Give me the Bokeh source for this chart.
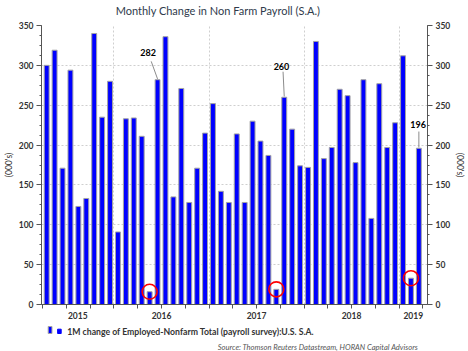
from bokeh.plotting import figure
from bokeh.layouts import column
from bokeh.models import (Range1d, LinearAxis, FixedTicker, SingleIntervalTicker,
                          ColumnDataSource)
from bokeh.core.properties import value
from bokeh.embed import file_html
from bokeh.resources import INLINE

# ---------------- data ----------------
months = ["2015-04", "2015-05", "2015-06", "2015-07", "2015-08", "2015-09",
          "2015-10", "2015-11", "2015-12", "2016-01", "2016-02", "2016-03",
          "2016-04", "2016-05", "2016-06", "2016-07", "2016-08", "2016-09",
          "2016-10", "2016-11", "2016-12", "2017-01", "2017-02", "2017-03",
          "2017-04", "2017-05", "2017-06", "2017-07", "2017-08", "2017-09",
          "2017-10", "2017-11", "2017-12", "2018-01", "2018-02", "2018-03",
          "2018-04", "2018-05", "2018-06", "2018-07", "2018-08", "2018-09",
          "2018-10", "2018-11", "2018-12", "2019-01", "2019-02", "2019-03"]
payroll = [300, 319, 171, 294, 123, 133,
           340, 235, 280, 91, 233, 234,
           211, 16, 282, 336, 135, 271,
           128, 171, 215, 252, 142, 128,
           214, 128, 230, 205, 187, 19,
           260, 220, 174, 172, 330, 183,
           197, 270, 262, 178, 282, 108,
           277, 197, 228, 312, 33, 196]
year_labels = ["2015", "2016", "2017", "2018", "2019"]
highlighted = ["2016-05", "2017-09", "2019-02"]
annotated = ["2016-06", "2017-10", "2019-03"]
y_max = 350
title_text = "Monthly Change in Non Farm Payroll (S.A.)"
legend_text = "1M change of Employed-Nonfarm Total (payroll survey):U.S. S.A."
source_text = "Source: Thomson Reuters Datastream, HORAN Capital Advisors"
unit_label = "(000's)"

# ---------------- styles ----------------
FONT = "Lato"
TXT = "#333333"
TITLE_C = "#2f3b4c"
AXC = "#555555"
GRID = "#cfcfcf"
BAR = "#0000ff"
BAR_EDGE = "#a3a3a3"

X0, X1 = -9.155, 39.59   # visible time window (months from Jan 2016)


def mpos(m):
    yy, mm = m.split("-")
    return (int(yy) - 2016) * 12 + int(mm) - 1 + 0.5


xs = [mpos(m) for m in months]
val = dict(zip(months, payroll))

# ---------------- header strip: title (canvas pixel coordinates) ----------------
head = figure(width=468, height=20, x_range=Range1d(37, 468), y_range=Range1d(20, 0),
              output_backend="svg", toolbar_location=None, x_axis_type=None,
              y_axis_type=None, min_border_left=37, min_border_right=0,
              min_border_top=0, min_border_bottom=0, outline_line_color=None)
head.grid.visible = False
head.text(x=[234], y=[10], text=[title_text], text_font=value(FONT),
          text_font_size="11px", text_color=TITLE_C, text_align="center",
          text_baseline="middle")

# ---------------- main chart ----------------
p = figure(width=468, height=302, x_range=Range1d(X0, X1), y_range=Range1d(0, y_max),
           output_backend="svg", toolbar_location=None,
           min_border_left=37, min_border_right=37, min_border_top=5, min_border_bottom=18,
           outline_line_color=None, background_fill_color="white")

# bars
src = ColumnDataSource(dict(x=xs, v=payroll))
p.vbar(x="x", top="v", width=0.62, source=src, fill_color=BAR,
       line_color=BAR_EDGE, line_width=1)

# red circles at weak months
p.scatter(x=[mpos(m) for m in highlighted], y=[val[m] for m in highlighted],
          marker="circle", size=15, fill_color=None, line_color="#ff0000", line_width=1.6)

# value annotations with leader lines
lab_dx = [-1.2, -0.35, -0.1]
lab_dy = [34, 38, 30]
lead_dx = [-0.8, -0.15, 0.0]
lead_dy = [23, 32, 21]
ax_ = [mpos(m) for m in annotated]
av = [val[m] for m in annotated]
p.segment(x0=[a + d for a, d in zip(ax_, lead_dx)], y0=[v + d for v, d in zip(av, lead_dy)],
          x1=ax_, y1=[v + 1 for v in av], line_color="#8c8c8c", line_width=1)
p.text(x=[a + d for a, d in zip(ax_, lab_dx)], y=[v + d for v, d in zip(av, lab_dy)],
       text=[str(v) for v in av], text_font=value(FONT), text_font_style="bold",
       text_font_size="9px", text_align="center", text_baseline="middle", text_color="black")

# axes
p.yaxis.ticker = SingleIntervalTicker(interval=50, num_minor_ticks=4)
p.yaxis.axis_label = unit_label
right = LinearAxis(ticker=SingleIntervalTicker(interval=50, num_minor_ticks=4),
                   axis_label=unit_label)
p.add_layout(right, "right")

year_pos = []
for y in year_labels:
    a = (int(y) - 2016) * 12
    b = a + 12
    year_pos.append((max(a, X0) + min(b, X1)) / 2)
quarters = [q for q in range(-12, 48, 3) if X0 <= q <= X1]
p.xaxis.ticker = FixedTicker(ticks=year_pos, minor_ticks=quarters)
p.xaxis.major_label_overrides = {pos: lbl for pos, lbl in zip(year_pos, year_labels)}
p.xaxis.major_tick_out = 0
p.xaxis.major_tick_in = 0
p.xaxis.minor_tick_out = 4
p.xaxis.minor_tick_in = 0

for ax in [p.yaxis[0], right, p.xaxis[0]]:
    ax.axis_line_color = AXC
    ax.major_tick_line_color = AXC
    ax.minor_tick_line_color = AXC
    ax.major_label_text_font = FONT
    ax.major_label_text_font_style = "bold"
    ax.major_label_text_font_size = "8.5px"
    ax.major_label_text_color = TXT
    ax.major_label_standoff = 3
    ax.axis_label_text_font = FONT
    ax.axis_label_text_font_style = "normal"
    ax.axis_label_text_font_size = "8.5px"
    ax.axis_label_text_color = TXT
    ax.axis_label_standoff = 2
for ax in [p.yaxis[0], right]:
    ax.major_tick_out = 5
    ax.major_tick_in = 0
    ax.minor_tick_out = 2
    ax.minor_tick_in = 0

# grids
p.xgrid.ticker = FixedTicker(ticks=[q for q in range(-12, 48, 12) if X0 < q < X1])
for g in [p.xgrid[0], p.ygrid[0]]:
    g.grid_line_color = GRID
    g.grid_line_dash = "2 2"
    g.grid_line_width = 1

# ---------------- footer strip: legend + source (canvas pixel coordinates) ----------------
foot = figure(width=468, height=29, x_range=Range1d(37, 468), y_range=Range1d(29, 0),
              output_backend="svg", toolbar_location=None, x_axis_type=None,
              y_axis_type=None, min_border_left=37, min_border_right=0,
              min_border_top=0, min_border_bottom=0, outline_line_color=None)
foot.grid.visible = False
# legend key: tall bar + small square
foot.quad(left=[44.5], right=[48.7], top=[4], bottom=[11], fill_color=BAR,
          line_color=BAR_EDGE, line_width=1)
foot.quad(left=[55], right=[59], top=[6.7], bottom=[11], fill_color=BAR, line_color=BAR)
foot.text(x=[65.7], y=[9], text=[legend_text], text_font=value(FONT),
          text_font_style="bold", text_font_size="8.7px", text_color=TXT,
          text_align="left", text_baseline="middle")
foot.text(x=[457.7], y=[24], text=[source_text], text_font=value(FONT),
          text_font_style="italic", text_font_size="7.6px", text_color="#555555",
          text_align="right", text_baseline="middle")

layout = column(head, p, foot, spacing=0)
open("out.html", "w").write(file_html(layout, INLINE))
